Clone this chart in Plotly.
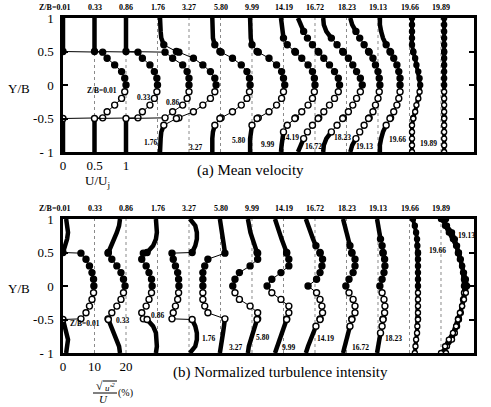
import plotly.graph_objects as go

# ---------------- data ----------------
ZB = ["0.01", "0.33", "0.86", "1.76", "3.27", "5.80", "9.99",
      "14.19", "16.72", "18.23", "19.13", "19.66", "19.89"]

Y = [1.0, 0.9, 0.8, 0.7, 0.6, 0.5, 0.49, 0.4, 0.3, 0.2, 0.1, 0.0,
     -0.1, -0.2, -0.3, -0.4, -0.49, -0.5, -0.6, -0.7, -0.8, -0.9, -1.0]

# (a) mean velocity U/Uj at each station
U_001 = [0, 0, 0, 0, 0, 0, .63, .70, .82, .93, .98, 1.0, .98, .93, .82, .70, .63, 0, 0, 0, 0, 0, 0]
U_033 = [0, 0, 0, 0, 0, 0, .69, .76, .88, .95, .99, 1.0, .99, .95, .88, .76, .69, 0, 0, 0, 0, 0, 0]
U_086 = [0, 0, 0, 0, 0, 0, .62, .74, .90, .97, 1.0, 1.0, 1.0, .97, .90, .74, .62, 0, 0, 0, 0, 0, 0]
U_176 = [.04, .04, .05, .06, .10, .30, .34, .57, .72, .84, .91, .93, .91, .84, .72, .57, .34, .30, .10, .06, .05, .04, .04]
U_327 = [.37, .37, .37, .38, .41, .49, .51, .69, .83, .92, .96, .97, .96, .92, .83, .69, .51, .49, .41, .38, .37, .37, .37]
U_580 = [.47, .47, .47, .48, .50, .58, .60, .77, .89, .97, 1.0, 1.02, 1.0, .97, .89, .77, .60, .58, .50, .48, .47, .47, .47]
U_999 = [.46, .47, .48, .50, .56, .68, .69, .79, .89, .96, .99, 1.0, .99, .96, .89, .79, .69, .68, .56, .50, .48, .47, .46]
U_1419 = [.23, .27, .32, .38, .46, .55, .56, .64, .73, .81, .87, .89, .87, .81, .73, .64, .56, .55, .46, .38, .32, .27, .23]
U_1672 = [.13, .14, .18, .26, .35, .44, .45, .53, .60, .66, .72, .75, .72, .66, .60, .53, .45, .44, .35, .26, .18, .14, .13]
U_1823 = [.06, .09, .15, .21, .28, .35, .36, .42, .46, .50, .52, .53, .52, .50, .46, .42, .36, .35, .28, .21, .15, .09, .06]
U_1913 = [.03, .03, .05, .08, .13, .19, .20, .25, .30, .33, .35, .35, .35, .33, .30, .25, .20, .19, .13, .08, .05, .03, .03]
U_1966 = [.04, .04, .04, .04, .04, .06, .06, .09, .11, .14, .16, .17, .16, .14, .11, .09, .06, .06, .04, .04, .04, .04, .04]
U_1989 = [.05] * 23

# (b) normalized turbulence intensity (%) at each station
T_001 = [1.0, 1.3, 1.6, 1.3, 0.6, 0.0, 5.7, 7.3, 8.4, 9.2, 9.7, 9.8, 9.7, 9.2, 8.4, 7.3, 5.7, 0.0, 0.6, 1.3, 1.6, 1.3, 1.0]
T_033 = [8.1, 7.8, 7.1, 6.2, 5.2, 4.4, 4.3, 5.5, 7.1, 8.4, 9.2, 9.7, 9.2, 8.4, 7.1, 5.5, 4.3, 4.4, 5.2, 6.2, 7.1, 7.8, 8.1]
T_086 = [9.5, 9.8, 9.8, 9.5, 8.6, 6.7, 5.5, 5.0, 6.4, 7.3, 8.1, 8.3, 8.1, 7.3, 6.4, 5.0, 5.5, 6.7, 8.6, 9.5, 9.8, 9.8, 9.5]
T_176 = [10.3, 12.0, 12.5, 12.5, 12.0, 11.0, 4.6, 5.0, 5.7, 6.4, 6.7, 6.8, 6.7, 6.4, 5.7, 5.0, 4.6, 11.0, 12.0, 12.5, 12.5, 12.0, 10.3]
T_327 = [9.8, 10.2, 10.5, 10.8, 11.1, 11.4, 11.4, 6.0, 5.0, 4.4, 4.4, 4.4, 4.4, 4.4, 5.0, 6.0, 11.4, 11.4, 11.1, 10.8, 10.5, 10.2, 9.8]
T_580 = [8.7, 9.0, 9.5, 10.2, 11.0, 11.6, 11.8, 11.8, 9.4, 6.0, 4.6, 3.9, 4.6, 6.0, 9.4, 11.8, 11.8, 11.6, 11.0, 10.2, 9.5, 9.0, 8.7]
T_999 = [7.3, 7.9, 8.6, 9.4, 10.2, 11.0, 11.0, 11.7, 11.7, 9.2, 6.3, 4.8, 6.3, 9.2, 11.7, 11.7, 11.0, 11.0, 10.2, 9.4, 8.6, 7.9, 7.3]
T_1419 = [7.1, 7.8, 8.4, 9.4, 10.3, 11.6, 11.6, 12.4, 12.2, 11.6, 10.5, 7.8, 10.5, 11.6, 12.2, 12.4, 11.6, 11.6, 10.3, 9.4, 8.4, 7.8, 7.1]
T_1672 = [8.9, 9.5, 9.8, 10.5, 11.1, 11.7, 11.7, 12.7, 12.7, 12.1, 10.8, 9.8, 10.8, 12.1, 12.7, 12.7, 11.7, 11.7, 11.1, 10.5, 9.8, 9.5, 8.9]
T_1823 = [9.7, 10.0, 10.5, 10.8, 11.3, 11.6, 11.6, 12.1, 12.2, 11.9, 11.3, 10.6, 11.3, 11.9, 12.2, 12.1, 11.6, 11.6, 11.3, 10.8, 10.5, 10.0, 9.7]
T_1913 = [11.1, 11.7, 12.1, 12.4, 12.5, 12.7, 12.7, 12.7, 12.7, 12.7, 12.7, 12.7, 12.7, 12.7, 12.7, 12.7, 12.7, 12.7, 12.5, 12.4, 12.1, 11.9, 11.7]
T_1966 = [10.0, 11.9, 13.5, 14.4, 15.1, 15.7, 15.7, 16.3, 16.7, 17.0, 17.3, 17.3, 17.3, 17.0, 16.7, 16.3, 15.7, 15.7, 15.1, 14.4, 13.5, 11.9, 10.0]
T_1989 = [1.6, 1.3, 2.5, 3.8, 4.8, 5.4, 5.4, 6.0, 6.7, 7.3, 7.9, 8.3, 7.9, 7.3, 6.7, 6.0, 5.4, 5.4, 4.8, 3.8, 2.5, 1.3, 1.6]

MEAN = [U_001, U_033, U_086, U_176, U_327, U_580, U_999, U_1419, U_1672, U_1823, U_1913, U_1966, U_1989]
TURB = [T_001, T_033, T_086, T_176, T_327, T_580, T_999, T_1419, T_1672, T_1823, T_1913, T_1966, T_1989]

# ---------------- styling / layout helpers ----------------
STEP = 0.5          # horizontal offset between stations (axis units)
SCALE_A = 1.0       # U/Uj per axis unit
SCALE_B = 20.0      # percent per axis unit
THICK_A = [0.5, 0.5, 0.5, 0.6, 0.6, 0.6, 0.7, 0.8, 0.7, 0.8, 0.6, 0, 0]
THICK_B = [0.5, 0.5, 0.5, 0.5, 0.49, 0.5, 0.5, 0.6, 0.6, 0.7, 0, 0, 0]
XMAX = 6.524
FONT = "Liberation Serif"

fig = go.Figure()


def add_panel(vals, scale, thick, xa, ya):
    for k in range(1, len(ZB)):
        fig.add_trace(go.Scatter(x=[STEP * k, STEP * k], y=[-1, 1], mode="lines",
                                 line=dict(color="#8a8a8a", width=1, dash="dot"),
                                 xaxis=xa, yaxis=ya, hoverinfo="skip", showlegend=False))
    for k, v in enumerate(vals):
        xs = [STEP * k + u / scale for u in v]
        thr = thick[k]
        if thr == 0:
            segs = [list(range(len(Y)))]
            w = 4
            msize = [5] * len(Y)
        else:
            segs = [[i for i, y in enumerate(Y) if y >= thr],
                    [i for i, y in enumerate(Y) if y <= -thr]]
            w = 4.5
            msize = [0 if abs(y) > thr else 6 for y in Y]
        for s in segs:
            fig.add_trace(go.Scatter(x=[xs[i] for i in s], y=[Y[i] for i in s], mode="lines",
                                     line=dict(color="black", width=w),
                                     xaxis=xa, yaxis=ya, hoverinfo="skip", showlegend=False))
        fills = ["#000000" if y >= 0 else "#ffffff" for y in Y]
        fig.add_trace(go.Scatter(x=xs, y=Y, mode="lines+markers",
                                 line=dict(color="black", width=1),
                                 marker=dict(size=msize, color=fills, opacity=1, symbol="circle",
                                             line=dict(color="#000000", width=1.4)),
                                 xaxis=xa, yaxis=ya, hoverinfo="skip", showlegend=False))


add_panel(MEAN, SCALE_A, THICK_A, "x", "y")
add_panel(TURB, SCALE_B, THICK_B, "x2", "y2")

axis_common = dict(range=[0, XMAX], showgrid=False, zeroline=False, showline=True,
                   linecolor="black", linewidth=2.5, mirror=True, ticks="",
                   tickfont=dict(size=13, family=FONT, color="black"))
yaxis_common = dict(range=[-1, 1], showgrid=False, zeroline=False, showline=True,
                    linecolor="black", linewidth=2.5, mirror="ticks", ticks="inside",
                    ticklen=5, tickwidth=1.5, tickcolor="black",
                    tickvals=[1, 0.5, 0, -0.5, -1], ticktext=["1", "0.5", "0", "-0.5", "- 1"],
                    tickfont=dict(size=13, family=FONT, color="black"), ticklabelstandoff=4)

fig.update_layout(
    width=491, height=407, margin=dict(l=63, r=17, t=18, b=54),
    paper_bgcolor="white", plot_bgcolor="white", showlegend=False,
    font=dict(family=FONT, color="black"),
    xaxis=dict(axis_common, domain=[0, 1], anchor="y", tickvals=[0, 0.5, 1], ticktext=["0", "0.5", "1"]),
    yaxis=dict(yaxis_common, domain=[0.6, 1], anchor="x"),
    xaxis2=dict(axis_common, domain=[0, 1], anchor="y2", tickvals=[0, 0.5, 1], ticktext=["0", "10", "20"]),
    yaxis2=dict(yaxis_common, domain=[0, 0.4], anchor="x2"),
)


def px(x):
    return (x - 63) / 411.0


def py(y):
    return (353 - y) / 335.0


ann = []


def text(t, x, y, size, bold=False, italic=False, xanchor="center"):
    s = t
    if bold:
        s = "<b>" + s + "</b>"
    if italic:
        s = "<i>" + s + "</i>"
    ann.append(dict(text=s, x=px(x), y=py(y), xref="paper", yref="paper", showarrow=False,
                    xanchor=xanchor, yanchor="middle", font=dict(size=size, family=FONT, color="black")))


# station labels above each panel
for k, z in enumerate(ZB):
    lab = ("Z/B=" + z) if k == 0 else z
    xc = 63 + 31.5 * k - (9 if k == 0 else 0)
    text(lab, xc, 8, 8, bold=True)
    text(lab, xc, 208, 8, bold=True)

# labels inside panel (a)
LAB_A = [("Z/B=0.01", 102, 90), ("0.33", 143, 97), ("0.86", 172, 103), ("1.76", 150, 142),
         ("3.27", 195, 147), ("5.80", 238, 140), ("9.99", 267, 144), ("14.19", 290, 137),
         ("16.72", 313, 146), ("18.23", 342, 137), ("19.13", 364, 146), ("19.66", 397, 139),
         ("19.89", 428, 143)]
for t, x, y in LAB_A:
    text(t, x, y, 7.5, bold=True)

# labels inside panel (b)
LAB_B = [("Z/B=0.01", 85, 323), ("0.33", 122, 320), ("0.86", 157, 315), ("1.76", 208, 338),
         ("3.27", 235, 347), ("5.80", 262, 337), ("9.99", 288, 347), ("14.19", 325, 338),
         ("16.72", 360, 347), ("18.23", 393, 338), ("19.66", 437, 250), ("19.13", 466, 235)]
for t, x, y in LAB_B:
    text(t, x, y, 7.5, bold=True)

# axis titles and captions
text("Y/B", 19, 88, 13)
text("Y/B", 19, 288, 13)
text("U/U<sub>j</sub>", 97, 181, 13)
text("(a) Mean velocity", 250, 170, 15)
text("(b) Normalized turbulence intensity", 280, 372, 15)

# turbulence intensity symbol  sqrt(u'^2)/U (%)
text("√", 99, 386, 12)
text("u'<sup>2</sup>", 110, 387, 9, italic=True)
text("U", 103, 399, 11, italic=True)
text("(%)", 125, 393, 10)

fig.update_layout(annotations=ann)
fig.add_shape(type="line", xref="paper", yref="paper", x0=px(103), x1=px(117), y0=py(381), y1=py(381),
              line=dict(color="black", width=1))
fig.add_shape(type="line", xref="paper", yref="paper", x0=px(93), x1=px(117), y0=py(393), y1=py(393),
              line=dict(color="black", width=1))

fig.write_html("out.html")
